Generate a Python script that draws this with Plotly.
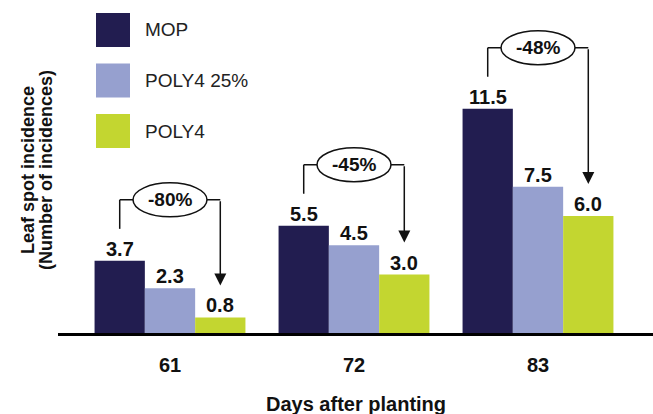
import plotly.graph_objects as go

# ---- data ----
days = ["61", "72", "83"]
series_names = ["MOP", "POLY4 25%", "POLY4"]
mop = [3.7, 5.5, 11.5]
poly4_25 = [2.3, 4.5, 7.5]
poly4 = [0.8, 3.0, 6.0]
reductions = ["-80%", "-45%", "-48%"]
colors = ["#221D50", "#96A0CF", "#C3D630"]

# ---- layout constants ----
W, H = 653, 414
ML, MR, MT, MB = 58, 0, 20, 81
PW, PH = W - ML - MR, H - MT - MB
YMAX = PH / 19.5
PX = YMAX / PH  # data units per pixel
BARGAP = 0.18
BW = (1 - BARGAP) / 3
FONT = "Liberation Sans, Arial, Helvetica, sans-serif"


def px_x(p):
    return (p - ML) / PW


def px_y(p):
    return (H - MB - p) / PH


fig = go.Figure()
all_vals = [mop, poly4_25, poly4]
for name, vals, col in zip(series_names, all_vals, colors):
    fig.add_trace(go.Bar(x=days, y=vals, name=name, marker_color=col,
                         marker_line_width=0, showlegend=False,
                         hoverinfo="x+y+name"))

shapes = []
annotations = []

# value labels
for k, vals in enumerate(all_vals):
    for i, v in enumerate(vals):
        annotations.append(dict(x=i + (k - 1) * BW, y=v, xref="x", yref="y",
                                text=f"{v:.1f}", showarrow=False,
                                yanchor="bottom", yshift=-1,
                                font=dict(family=FONT, size=20, color="#111",
                                          weight="bold")))

# brackets with reduction labels
for i in range(len(days)):
    xl = i - BW
    xr = i + BW
    yb = mop[i] + 61 * PX
    yl = mop[i] + 32 * PX
    ytip = poly4[i] + 32 * PX
    line = dict(color="#111", width=1.5)
    shapes.append(dict(type="line", xref="x", yref="y", x0=xl, x1=xl,
                       y0=yl, y1=yb, line=line))
    shapes.append(dict(type="line", xref="x", yref="y", x0=xl, x1=xr,
                       y0=yb, y1=yb, line=line))
    annotations.append(dict(x=xr, y=ytip, xref="x", yref="y",
                            ax=xr, ay=yb, axref="x", ayref="y",
                            text="", showarrow=True, arrowhead=2,
                            arrowsize=1.6, arrowwidth=1.5, arrowcolor="#111",
                            standoff=0, startstandoff=0))
    shapes.append(dict(type="circle", xref="x", yref="y",
                       xsizemode="pixel", xanchor=i, x0=-37, x1=37,
                       y0=yb - 17 * PX, y1=yb + 17 * PX,
                       fillcolor="white", line=dict(color="#111", width=1.5)))
    annotations.append(dict(x=i, y=yb, xref="x", yref="y", text=reductions[i],
                            showarrow=False, yanchor="middle",
                            font=dict(family=FONT, size=19, color="#111",
                                      weight="bold")))

# custom legend
for k, (name, col) in enumerate(zip(series_names, colors)):
    top = 13 + 50.5 * k
    shapes.append(dict(type="rect", xref="paper", yref="paper",
                       x0=px_x(96), x1=px_x(130), y0=px_y(top + 34), y1=px_y(top),
                       fillcolor=col, line_width=0))
    annotations.append(dict(x=px_x(143), y=px_y(top + 17), xref="paper",
                            yref="paper", text=name, showarrow=False,
                            xanchor="left", yanchor="middle",
                            font=dict(family=FONT, size=19, color="#222")))

# axis titles
annotations.append(dict(x=px_x(28), y=px_y(170), xref="paper", yref="paper",
                        text="Leaf spot incidence", textangle=-90,
                        showarrow=False, xanchor="center", yanchor="middle",
                        font=dict(family=FONT, size=18, color="#111",
                                  weight="bold")))
annotations.append(dict(x=px_x(46), y=px_y(170), xref="paper", yref="paper",
                        text="(Number of incidences)", textangle=-90,
                        showarrow=False, xanchor="center", yanchor="middle",
                        font=dict(family=FONT, size=18, color="#111",
                                  weight="bold")))
annotations.append(dict(x=px_x(356), y=px_y(404), xref="paper", yref="paper",
                        text="Days after planting", showarrow=False,
                        xanchor="center", yanchor="middle",
                        font=dict(family=FONT, size=20, color="#111",
                                  weight="bold")))

fig.update_layout(
    width=W, height=H,
    margin=dict(l=ML, r=MR, t=MT, b=MB),
    paper_bgcolor="white", plot_bgcolor="white",
    barmode="group", bargap=BARGAP, bargroupgap=0,
    shapes=shapes, annotations=annotations,
    showlegend=False,
    xaxis=dict(type="category", range=[-(170 - ML) / 184, -(170 - ML) / 184 + PW / 184],
               showline=True, linecolor="#000", linewidth=3,
               ticks="outside", ticklen=12, tickcolor="rgba(0,0,0,0)",
               tickfont=dict(family=FONT, size=20, color="#111", weight="bold"),
               showgrid=False, zeroline=False),
    yaxis=dict(range=[0, YMAX], visible=False, showgrid=False, zeroline=False),
)

fig.write_html("out.html", config={"displayModeBar": False},
               post_script="document.body.style.margin='0';"
                           "document.body.style.overflow='hidden';")
